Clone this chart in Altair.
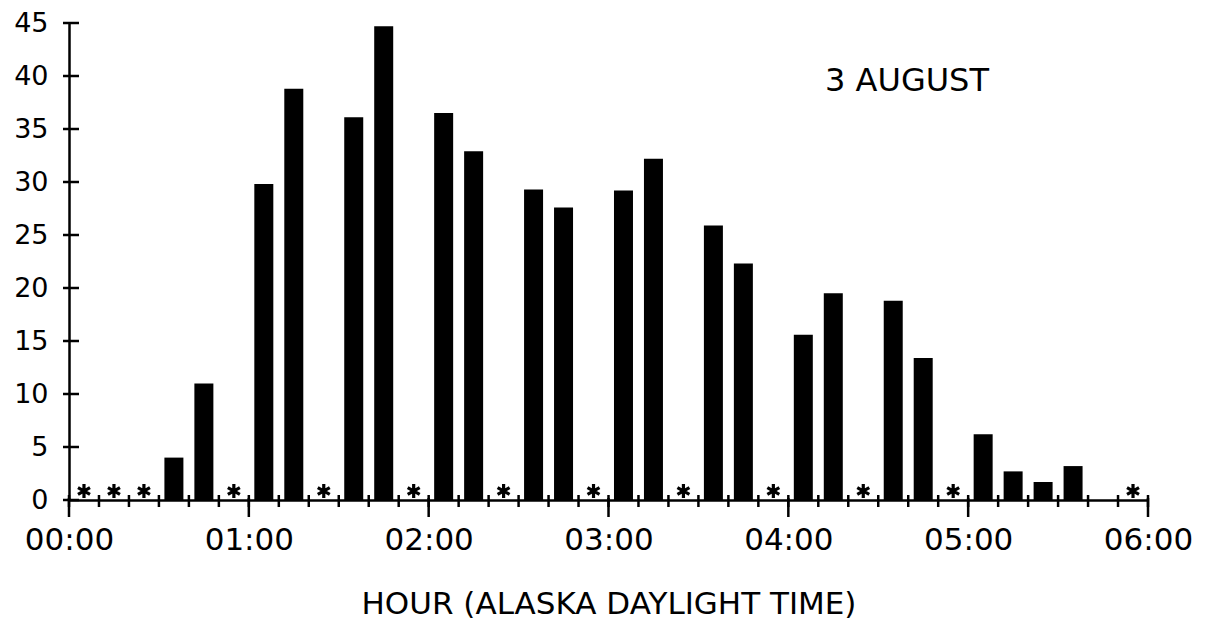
import altair as alt
import pandas as pd

# ---- data ----
bar_start_min = [30, 40, 60, 70, 90, 100, 120, 130, 150, 160, 180, 190,
                 210, 220, 240, 250, 270, 280, 300, 310, 320, 330, 340]
bar_value = [4.0, 11.0, 29.8, 38.8, 36.1, 44.7, 36.5, 32.9, 29.3, 27.6, 29.2, 32.2,
             25.9, 22.3, 15.6, 19.5, 18.8, 13.4, 6.2, 2.7, 1.7, 3.2, 0.0]
missing_start_min = [0, 10, 20, 50, 80, 110, 140, 170, 200, 230, 260, 290, 350]
hour_ticks = [0, 60, 120, 180, 240, 300, 360]
hour_labels = ["00:00", "01:00", "02:00", "03:00", "04:00", "05:00", "06:00"]
minor_ticks = list(range(0, 361, 10))
y_ticks = [0, 5, 10, 15, 20, 25, 30, 35, 40, 45]

FONT = "DejaVu Sans"
W, H = 1079, 477

bars = pd.DataFrame({"mid": [s + 5 for s in bar_start_min], "v": bar_value})
miss = pd.DataFrame({"mid": [s + 5 for s in missing_start_min]})
minor = pd.DataFrame({"t": minor_ticks})
major = pd.DataFrame({"t": hour_ticks})
yt = pd.DataFrame({"v": y_ticks})

xscale = alt.Scale(domain=[0, 360], nice=False, zero=False, padding=0)
yscale = alt.Scale(domain=[0, 45], nice=False, padding=0)

label_expr = "[" + ",".join("'%s'" % l for l in hour_labels) + "][datum.value/60]"

xaxis = alt.Axis(values=hour_ticks, labelExpr=label_expr, ticks=False, grid=False,
                 domainColor="black", domainWidth=2.5, labelFont=FONT, labelFontSize=31,
                 labelColor="black", labelPadding=25, title="HOUR (ALASKA DAYLIGHT TIME)",
                 titleFont=FONT, titleFontSize=31, titleFontWeight="normal",
                 titleColor="black", titlePadding=34, labelFlush=False)
yaxis = alt.Axis(values=y_ticks, ticks=False, grid=False, domainColor="black",
                 domainWidth=2.5, labelFont=FONT, labelFontSize=27, labelColor="black",
                 labelPadding=21, title=None, labelBaseline="middle")

bar_layer = alt.Chart(bars).mark_bar(color="black", size=19).encode(
    x=alt.X("mid:Q", scale=xscale, axis=xaxis),
    y=alt.Y("v:Q", scale=yscale, axis=yaxis),
)

star_path = "M0,-1L0,1M-0.87,-0.5L0.87,0.5M-0.87,0.5L0.87,-0.5"
star_layer = alt.Chart(miss).mark_point(shape=star_path, size=190, filled=False,
                                        stroke="black", strokeWidth=3.2, opacity=1).encode(
    x=alt.X("mid:Q", scale=xscale),
    y=alt.value(H - 9),
)

minor_layer = alt.Chart(minor).mark_rule(color="black", strokeWidth=2.5).encode(
    x=alt.X("t:Q", scale=xscale),
    y=alt.value(H - 5),
    y2=alt.value(H + 7),
)
major_layer = alt.Chart(major).mark_rule(color="black", strokeWidth=2.5).encode(
    x=alt.X("t:Q", scale=xscale),
    y=alt.value(H - 2),
    y2=alt.value(H + 17),
)
ytick_layer = alt.Chart(yt).mark_rule(color="black", strokeWidth=2.5).encode(
    y=alt.Y("v:Q", scale=yscale),
    x=alt.value(-6),
    x2=alt.value(10),
)

note = alt.Chart(pd.DataFrame({"t": ["3 AUGUST"]})).mark_text(
    font=FONT, fontSize=32, color="black", align="center", baseline="middle"
).encode(text="t:N", x=alt.value(838), y=alt.value(58))

chart = alt.layer(bar_layer, star_layer, minor_layer, major_layer, ytick_layer, note).properties(
    width=W, height=H,
    autosize=alt.AutoSizeParams(type="none"),
    padding={"left": 61, "top": 15, "right": 54, "bottom": 125},
).configure(background="white").configure_view(stroke=None, strokeWidth=0)

chart.save("out.html", embed_options={"renderer": "svg", "actions": False})
